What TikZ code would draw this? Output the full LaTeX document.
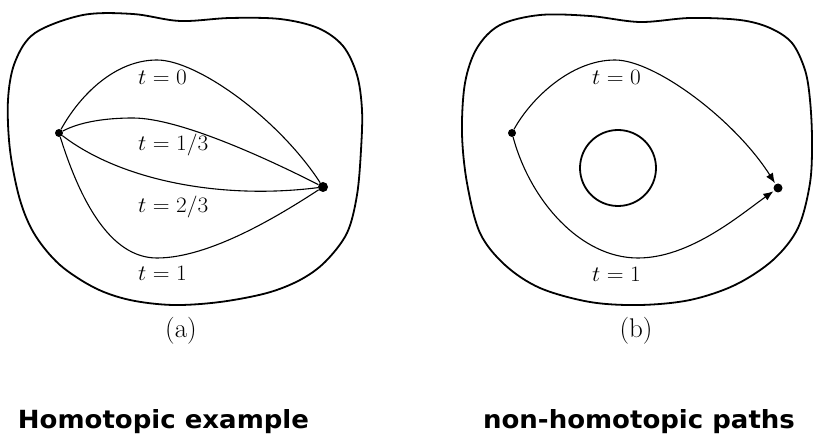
\documentclass[tikz,border=0pt]{standalone}
\usepackage{fix-cm}
\usepackage{fontspec}
\newfontfamily\capfont{DejaVu Sans}
\usetikzlibrary{arrows.meta}
\begin{document}
\begin{tikzpicture}[x=1pt,y=-1pt,
  outline/.style={line width=1.8pt},
  pathline/.style={line width=1.1pt},
  dot/.style={circle,fill=black,inner sep=0pt,minimum size=#1},
  tlabel/.style={font=\fontsize{22}{26}\selectfont,inner sep=0pt,anchor=base west},
  sublabel/.style={font=\fontsize{27}{30}\selectfont,inner sep=0pt},
  caption/.style={font=\capfont\bfseries\fontsize{25}{28}\selectfont,inner sep=0pt,anchor=base},
  arr/.style={-{Latex[length=10pt,width=8pt]},shorten >=1pt}]
\useasboundingbox (0,0) rectangle (822,446);
% panel (a)
\draw[outline] plot[smooth cycle,tension=0.55] coordinates {
 (83,15) (133,14) (180,21) (230,18) (280,19) (318,28) (343,46) (357,75)
 (362,110) (361,150) (357,195) (347,233) (325,262) (300,280) (267,293) (220,302) (173,305)
 (130,300) (95,288) (60,265) (35,235) (20,200) (10,150) (8,100) (15,62) (35,33)};
\node[dot=8pt] (A) at (59,133) {};
\node[dot=10pt] (B) at (323,187) {};
\coordinate (P0) at (157,60);
\coordinate (P1) at (133,118);
\coordinate (P3) at (157,258);
\draw[pathline] (A) .. controls (80,95) and (115,60) .. (P0) .. controls (197,60) and (278,118) .. (B);
\draw[pathline] (A) .. controls (80,122) and (105,118) .. (P1) .. controls (180,118) and (270,160) .. (B);
\draw[pathline] (A) .. controls (120,180) and (220,200) .. (B);
\draw[pathline] (A) .. controls (80,200) and (110,258) .. (P3) .. controls (210,258) and (280,215) .. (B);
\node[tlabel] (la0) at (138,85) {\scalebox{1.06}[1]{$t=0$}};
\node[tlabel] (la1) at (138,151) {\scalebox{1.06}[1]{$t=1/3$}};
\node[tlabel] (la2) at (138,213) {\scalebox{1.06}[1]{$t=2/3$}};
\node[tlabel] (la3) at (138,281) {\scalebox{1.06}[1]{$t=1$}};
\node[sublabel] (suba) at (181,331) {(a)};
% panel (b)
\draw[outline] plot[smooth cycle,tension=0.55] coordinates {
 (500,25) (540,15) (590,16) (640,22) (690,18) (740,20) (770,28) (792,43)
 (805,70) (810,100) (812,140) (810,183) (798,228) (773,260) (735,285) (690,300) (640,305)
 (590,302) (540,288) (505,265) (480,233) (467,183) (462,133) (465,83) (477,48)};
\node[dot=8pt] (C) at (512,133) {};
\node[dot=9pt] (D) at (778,188) {};
\node[draw,circle,line width=1.8pt,minimum size=76pt,inner sep=0pt] (hole) at (618,168) {};
\coordinate (Q0) at (615,60);
\coordinate (Q1) at (638,258);
\draw[pathline,arr] (C) .. controls (530,100) and (570,60) .. (Q0) .. controls (655,60) and (735,120) .. (D);
\draw[pathline,arr] (C) .. controls (530,200) and (580,258) .. (Q1) .. controls (690,258) and (740,215) .. (D);
\node[tlabel] (lb0) at (592,85) {\scalebox{1.06}[1]{$t=0$}};
\node[tlabel] (lb1) at (592,282) {\scalebox{1.06}[1]{$t=1$}};
\node[sublabel] (subb) at (636,331) {(b)};
% captions
\node[caption] (capa) at (163.5,428) {\scalebox{1.04}[1]{Homotopic example}};
\node[caption] (capb) at (639,428) {\scalebox{1.04}[1]{non-homotopic paths}};
\end{tikzpicture}
\end{document}
